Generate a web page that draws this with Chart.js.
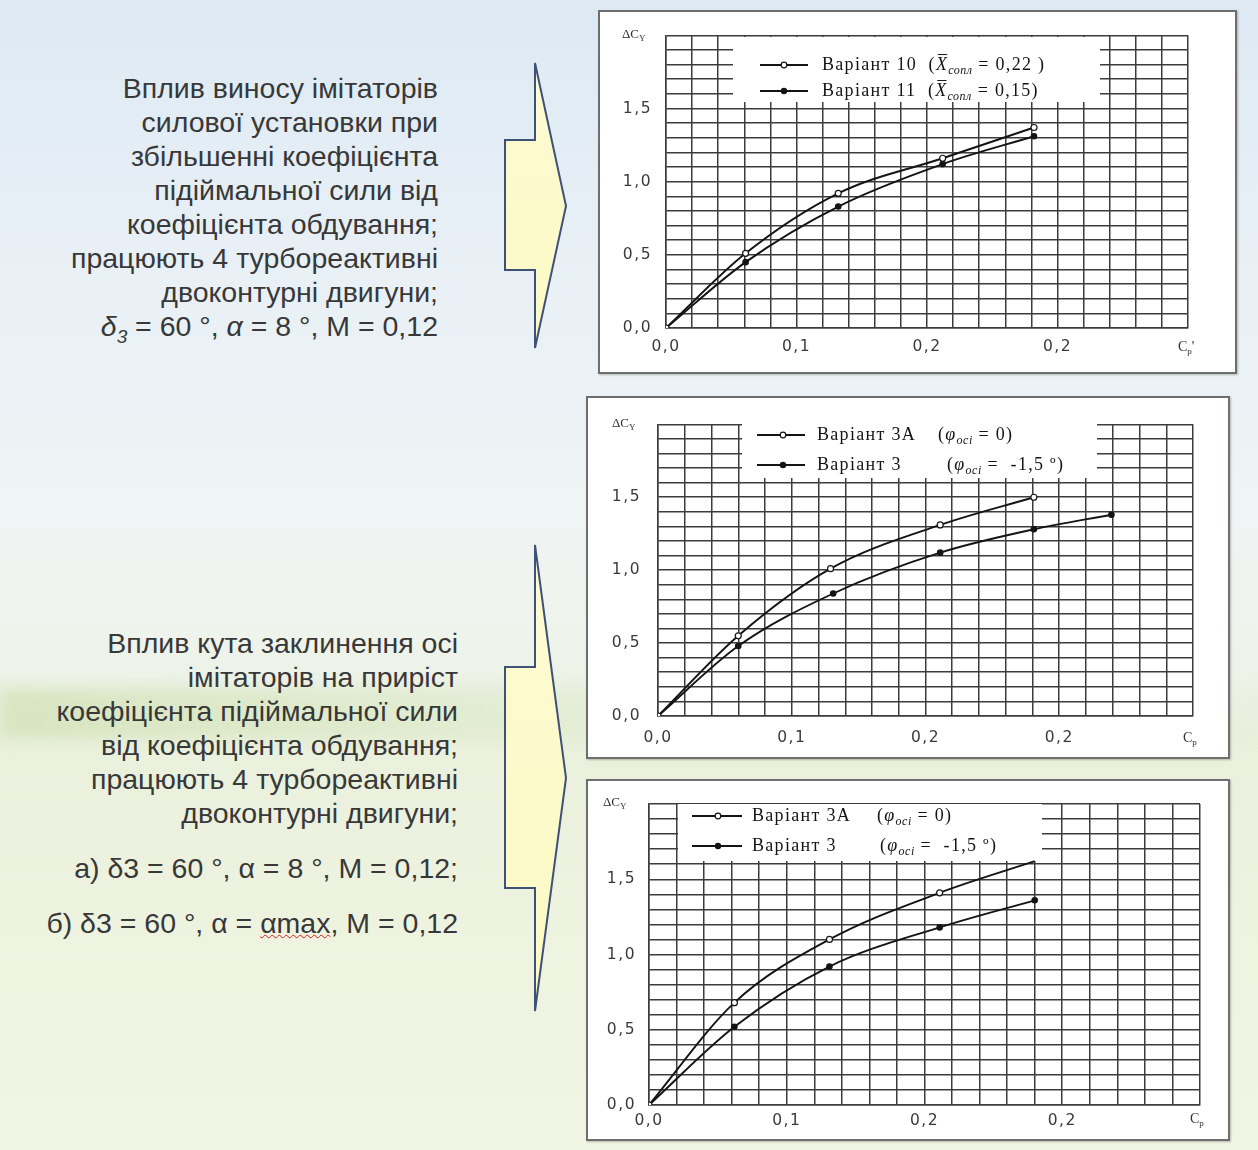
<!DOCTYPE html>
<html>
<head>
<meta charset="utf-8">
<script src="https://cdn.jsdelivr.net/npm/chart.js@4.4.0/dist/chart.umd.min.js"></script>
<style>
  html, body { margin: 0; padding: 0; }
  body {
    width: 1258px; height: 1150px; position: relative; overflow: hidden;
    background: linear-gradient(to bottom, #dde9f3 0%, #e8f0f6 22%, #eff4f4 45%, #eef3ea 57%, #e9f0dc 64%, #eef3e0 80%, #f1f5e3 100%);
  }
  .band {
    position: absolute; left: 0; top: 688px; width: 1258px; height: 50px;
    background: linear-gradient(to right, rgba(200,220,168,0.55), rgba(210,228,182,0.3) 40%, rgba(225,235,205,0.05) 75%);
    filter: blur(7px);
  }
  .txt {
    position: absolute; text-align: right; color: #383838;
    font-family: "Liberation Sans Narrow", "Arial Narrow", "Liberation Sans", sans-serif;
    font-size: 28.5px; line-height: 34px; white-space: nowrap;
  }
  .txt sub { font-size: 19px; line-height: 0; }
  .txt p { margin: 0; }
  .wavy { text-decoration: underline wavy #d02020; text-decoration-thickness: 1px; }
  .box {
    position: absolute; background: #fff; border: 2px solid #6e6e6e;
    box-shadow: 1px 1px 2px rgba(0,0,0,0.25);
  }
  .box canvas { display: block; }
  svg { position: absolute; left: 0; top: 0; }
</style>
</head>
<body>
<div class="band"></div>

<svg width="600" height="1150">
  <defs>
    <linearGradient id="ylw" x1="0" y1="0" x2="0" y2="1">
      <stop offset="0" stop-color="#fdfbd2"/>
      <stop offset="1" stop-color="#fbf9c4"/>
    </linearGradient>
  </defs>
  <polygon points="535,63 566,206 535,348 535,270 505,270 505,140 535,140"
           fill="url(#ylw)" stroke="#3e5177" stroke-width="2"/>
  <polygon points="535,545 566,778 535,1011 535,888 505,888 505,667 535,667"
           fill="url(#ylw)" stroke="#3e5177" stroke-width="2"/>
</svg>

<div class="txt" style="right:820px; top:71px;">
  Вплив виносу імітаторів<br>
  силової установки при<br>
  збільшенні коефіцієнта<br>
  підіймальної сили від<br>
  коефіцієнта обдування;<br>
  працюють 4 турбореактивні<br>
  двоконтурні двигуни;<br>
  <i>δ</i><sub><i>3</i></sub> = 60 °, <i>α</i> = 8 °, M = 0,12
</div>

<div class="txt" style="right:800px; top:626px;">
  <p>Вплив кута заклинення осі<br>
  імітаторів на приріст<br>
  коефіцієнта підіймальної сили<br>
  від коефіцієнта обдування;<br>
  працюють 4 турбореактивні<br>
  двоконтурні двигуни;</p>
  <p style="margin-top:21px">а) δ3 = 60 °, α = 8 °, M = 0,12;</p>
  <p style="margin-top:21px">б) δ3 = 60 °, α = <span class="wavy">αmax</span>, M = 0,12</p>
</div>

<div class="box" style="left:598px; top:10px;"><canvas id="chart1" width="635" height="360"></canvas></div>
<div class="box" style="left:586px; top:396px;"><canvas id="chart2" width="640" height="359"></canvas></div>
<div class="box" style="left:586px; top:779px;"><canvas id="chart3" width="640" height="358"></canvas></div>

<script>
// tick labels (the fourth x label reads "0,2" in the original figure)
const xTickLabels = ['0,0', '0,1', '0,2', '0,2', ''];
const yTickLabels = ['0,0', '0,5', '1,0', '1,5', ''];

// Chart 1: Variant 10 vs Variant 11
const c1Cp = [0, 0.061, 0.132, 0.212, 0.282];
const c1Var10 = [0, 0.51, 0.92, 1.16, 1.37];
const c1Var11 = [0, 0.45, 0.83, 1.12, 1.31];

// Chart 2: Variant 3A vs Variant 3 (alpha = 8)
const c2Cp3A = [0, 0.060, 0.129, 0.211, 0.281];
const c2Var3A = [0, 0.55, 1.01, 1.31, 1.50];
const c2Cp3 = [0, 0.060, 0.131, 0.211, 0.281, 0.339];
const c2Var3 = [0, 0.48, 0.84, 1.12, 1.28, 1.38];

// Chart 3: Variant 3A vs Variant 3 (alpha max)
const c3Cp = [0, 0.062, 0.131, 0.211, 0.280];
const c3Var3A = [0, 0.68, 1.10, 1.41, 1.62];
const c3Var3 = [0, 0.52, 0.92, 1.18, 1.36];

const INK = '#141414';
const GRID = '#3c3c3c';

// legend / axis-name layout per canvas, kept outside chart options
// (the option resolver mangles nested arrays of objects)
const legendCfg = {};

function toPoints(xs, ys) {
  return xs.map((x, i) => ({ x: x, y: ys[i] }));
}

// draws a run of text pieces, some italic / subscript / overlined
function drawRich(ctx, x, y, segs, size, spacing) {
  let cx = x;
  segs.forEach(s => {
    if (s.at !== undefined) cx = x + s.at;
    const fs = s.sub ? Math.round(size * 0.66) : size;
    ctx.font = (s.italic ? 'italic ' : '') + fs + 'px "Liberation Serif", "Times New Roman", serif';
    ctx.letterSpacing = (s.sub ? spacing * 0.4 : spacing) + 'px';
    const dy = s.sub ? size * 0.3 : 0;
    ctx.fillText(s.t, cx, y + dy);
    const w = ctx.measureText(s.t).width;
    if (s.bar) {
      ctx.beginPath();
      ctx.lineWidth = 1;
      ctx.moveTo(cx + 2, y - size * 0.58);
      ctx.lineTo(cx + w - 1, y - size * 0.58);
      ctx.stroke();
    }
    cx += w;
  });
}

const decor = {
  id: 'decor',
  beforeDraw(chart) {
    chart.ctx.letterSpacing = '1.5px';
  },
  beforeDatasetsDraw(chart) {
    const o = legendCfg[chart.canvas.id];
    const ctx = chart.ctx;
    ctx.save();
    const b = o.box;
    ctx.fillStyle = '#fff';
    ctx.fillRect(b[0], b[1], b[2], b[3]);
    ctx.strokeStyle = INK;
    ctx.textBaseline = 'middle';
    ctx.textAlign = 'left';
    o.rows.forEach(r => {
      ctx.beginPath();
      ctx.lineWidth = 1.9;
      ctx.moveTo(o.lineX[0], r.y);
      ctx.lineTo(o.lineX[1], r.y);
      ctx.stroke();
      ctx.beginPath();
      ctx.arc(o.markX, r.y, r.open ? 2.8 : 2.6, 0, Math.PI * 2);
      ctx.fillStyle = r.open ? '#fff' : INK;
      ctx.fill();
      ctx.lineWidth = 1.2;
      ctx.stroke();
      ctx.fillStyle = INK;
      drawRich(ctx, o.textX, r.y, r.segs, o.size, 1.3);
    });
    // axis names
    const a = chart.chartArea;
    ctx.fillStyle = '#333';
    drawRich(ctx, a.left - o.dcyDx, a.top - 1, [{ t: 'ΔC' }, { t: 'Y', sub: true }], 13, 0);
    drawRich(ctx, a.right - 10, a.bottom + o.cpDy, [{ t: 'C' }, { t: 'p', sub: true }, { t: o.cpMark }], 14, 0);
    ctx.restore();
  }
};

function makeChart(id, series, lay) {
  legendCfg[id] = lay.legend;
  const datasets = series.map(s => ({
    label: s.label,
    data: toPoints(s.x, s.y),
    borderColor: INK,
    borderWidth: 1.9,
    cubicInterpolationMode: 'monotone',
    pointRadius: s.radius || (s.open ? 3 : 2.7),
    pointBackgroundColor: s.open ? '#fff' : INK,
    pointBorderColor: INK,
    pointBorderWidth: 1.2,
    fill: false
  }));

  new Chart(document.getElementById(id), {
    type: 'line',
    data: { datasets: datasets },
    options: {
      responsive: false,
      animation: false,
      layout: { padding: { top: lay.top, right: lay.right, left: 0, bottom: 0 } },
      scales: {
        x: {
          type: 'linear', min: 0, max: 0.4,
          afterFit: ax => { ax.height = lay.xH; },
          grid: { color: GRID, lineWidth: 1.5, drawTicks: false },
          border: { color: GRID, width: 1.5 },
          ticks: {
            stepSize: 0.02, autoSkip: false, maxRotation: 0, padding: lay.xPad,
            color: '#3a3a3a', font: { family: 'DejaVu Sans', size: 15.5 },
            callback: v => {
              const k = Math.round(v * 50);
              return k % 5 === 0 ? xTickLabels[k / 5] : '';
            }
          }
        },
        y: {
          min: 0, max: 2,
          afterFit: ax => { ax.width = lay.yW; },
          grid: { color: GRID, lineWidth: 1.5, drawTicks: false },
          border: { color: GRID, width: 1.5 },
          ticks: {
            stepSize: 0.1, autoSkip: false, padding: lay.yPad,
            color: '#3a3a3a', font: { family: 'DejaVu Sans', size: 15.5 },
            callback: v => {
              const k = Math.round(v * 10);
              return k % 5 === 0 ? yTickLabels[k / 5] : '';
            }
          }
        }
      },
      plugins: {
        legend: { display: false },
        tooltip: { enabled: false }
      }
    },
    plugins: [decor]
  });
}

makeChart('chart1', [
  { label: 'Варіант 10', x: c1Cp, y: c1Var10, open: true },
  { label: 'Варіант 11', x: c1Cp, y: c1Var11, open: false }
], {
  top: 23, right: 47, xH: 44, yW: 66, xPad: 10, yPad: 14,
  legend: {
    box: [133, 25, 367, 65], lineX: [160, 208], markX: 184, textX: 222, size: 18,
    dcyDx: 44, cpDy: 19, cpMark: "'",
    rows: [
      { y: 53, open: true, segs: [{ t: 'Варіант 10  (' }, { t: 'X', italic: true, bar: true }, { t: 'сопл', italic: true, sub: true }, { t: ' = 0,22 )' }] },
      { y: 79, open: false, segs: [{ t: 'Варіант 11  (' }, { t: 'X', italic: true, bar: true }, { t: 'сопл', italic: true, sub: true }, { t: ' = 0,15)' }] }
    ]
  }
});

makeChart('chart2', [
  { label: 'Варіант 3А', x: c2Cp3A, y: c2Var3A, open: true },
  { label: 'Варіант 3', x: c2Cp3, y: c2Var3, open: false }
], {
  top: 22, right: 35, xH: 41, yW: 70, xPad: 13, yPad: 17,
  legend: {
    box: [154, 22, 355, 58], lineX: [169, 217], markX: 195, textX: 229, size: 18,
    dcyDx: 46, cpDy: 22, cpMark: '',
    rows: [
      { y: 37, open: true, segs: [{ t: 'Варіант 3А' }, { t: '(', at: 121 }, { t: 'φ', italic: true }, { t: 'осі', italic: true, sub: true }, { t: ' = 0)' }] },
      { y: 67, open: false, segs: [{ t: 'Варіант 3' }, { t: '(', at: 130 }, { t: 'φ', italic: true }, { t: 'осі', italic: true, sub: true }, { t: ' =  -1,5 º)' }] }
    ]
  }
});

makeChart('chart3', [
  { label: 'Варіант 3А', x: c3Cp, y: c3Var3A, open: true, radius: [3, 3, 3, 3, 0] },
  { label: 'Варіант 3', x: c3Cp, y: c3Var3, open: false }
], {
  top: 23, right: 28, xH: 34, yW: 61, xPad: 7, yPad: 13,
  legend: {
    box: [90, 23, 364, 57], lineX: [104, 154], markX: 130, textX: 164, size: 18,
    dcyDx: 46, cpDy: 14, cpMark: '',
    rows: [
      { y: 35, open: true, segs: [{ t: 'Варіант 3А' }, { t: '(', at: 125 }, { t: 'φ', italic: true }, { t: 'осі', italic: true, sub: true }, { t: ' = 0)' }] },
      { y: 65, open: false, segs: [{ t: 'Варіант 3' }, { t: '(', at: 128 }, { t: 'φ', italic: true }, { t: 'осі', italic: true, sub: true }, { t: ' =  -1,5 º)' }] }
    ]
  }
});
</script>
</body>
</html>
